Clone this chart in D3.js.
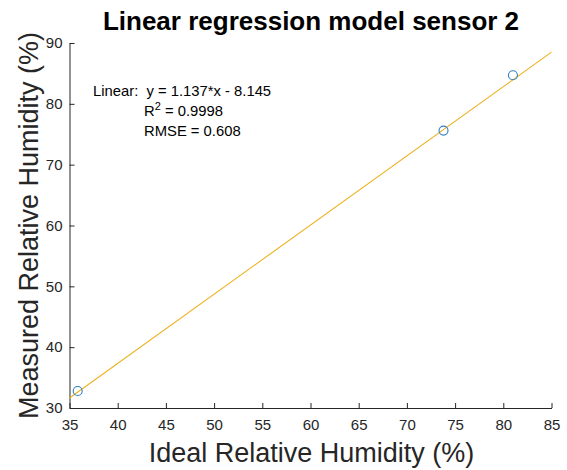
<!DOCTYPE html>
<html>
<head>
<meta charset="utf-8">
<script src="https://cdn.jsdelivr.net/npm/d3@7"></script>
<style>
  body { margin: 0; background: #fff; }
  svg { display: block; font-family: Arial, "Liberation Sans", Helvetica, sans-serif; }
</style>
</head>
<body>
<svg id="chart" width="567" height="470"></svg>
<script>
// Calibration points: ideal vs measured relative humidity
const idealRH = [35.85, 73.8, 81.0];
const measuredRH = [32.8, 75.6, 84.7];

// Fitted linear model
const slope = 1.137;
const intercept = -8.145;
const r2Text = "0.9998";
const rmseText = "0.608";

const xTicks = [35, 40, 45, 50, 55, 60, 65, 70, 75, 80, 85];
const yTicks = [30, 40, 50, 60, 70, 80, 90];

const svg = d3.select("#chart");
const margin = { left: 69.5, right: 15.5, top: 43, bottom: 62 };
const W = 567, H = 470;

const x = d3.scaleLinear().domain([35, 85]).range([margin.left, W - margin.right]);
const y = d3.scaleLinear().domain([30, 90]).range([H - margin.bottom, margin.top]);

// Axes (ticks drawn inward)
const xAxis = svg.append("g")
  .attr("transform", `translate(0,${y(30)})`)
  .call(d3.axisBottom(x).tickValues(xTicks).tickSize(-5).tickPadding(11).tickSizeOuter(0));
const yAxis = svg.append("g")
  .attr("transform", `translate(${x(35)},0)`)
  .call(d3.axisLeft(y).tickValues(yTicks).tickSize(-5).tickPadding(7).tickSizeOuter(0));

[xAxis, yAxis].forEach(g => {
  g.selectAll("path.domain").attr("stroke", "#262626").attr("stroke-width", 1);
  g.selectAll(".tick line").attr("stroke", "#262626");
  g.selectAll(".tick text")
    .attr("fill", "#262626")
    .style("font-size", "15px")
    .style("font-family", "Arial, 'Liberation Sans', sans-serif");
});

// Regression line across the full x range
const fit = d => slope * d + intercept;
svg.append("line")
  .attr("x1", x(35)).attr("y1", y(fit(35)))
  .attr("x2", x(85)).attr("y2", y(fit(85)))
  .attr("stroke", "#EDB120").attr("stroke-width", 1.1);

// Data markers
svg.append("g").selectAll("circle")
  .data(idealRH.map((d, i) => [d, measuredRH[i]]))
  .join("circle")
  .attr("cx", d => x(d[0]))
  .attr("cy", d => y(d[1]))
  .attr("r", 4.5)
  .attr("fill", "none")
  .attr("stroke", "#2f7fc4")
  .attr("stroke-width", 1.1);

// Title
svg.append("text")
  .attr("x", 311).attr("y", 30)
  .attr("text-anchor", "middle")
  .style("font-size", "26px").style("font-weight", "bold")
  .attr("fill", "#000")
  .text("Linear regression model sensor 2");

// Axis labels
svg.append("text")
  .attr("x", 311.5).attr("y", 462)
  .attr("text-anchor", "middle")
  .style("font-size", "27px")
  .attr("fill", "#262626")
  .text("Ideal Relative Humidity (%)");

svg.append("text")
  .attr("transform", `translate(38,${(margin.top + y(30)) / 2}) rotate(-90)`)
  .attr("text-anchor", "middle")
  .style("font-size", "27px")
  .attr("fill", "#262626")
  .text("Measured Relative Humidity (%)");

// Fit statistics
const ann = svg.append("g").style("font-size", "14.8px").attr("fill", "#000");
ann.append("text").attr("x", 93).attr("y", 96)
  .text(`Linear:\u00A0 y = ${slope}*x - ${Math.abs(intercept)}`);
const r2 = ann.append("text").attr("x", 144).attr("y", 116);
r2.append("tspan").text("R");
r2.append("tspan").attr("dy", -6).style("font-size", "11px").text("2");
r2.append("tspan").attr("dy", 6).text("\u00A0= " + r2Text);
ann.append("text").attr("x", 144).attr("y", 136).text("RMSE = " + rmseText);
</script>
</body>
</html>
